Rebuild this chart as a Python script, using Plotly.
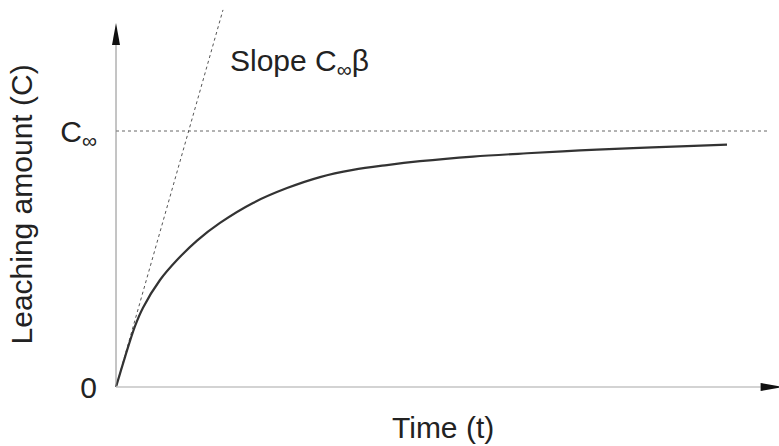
import plotly.graph_objects as go

# ---- data (t in arbitrary time units, C as fraction of C_inf) ----
t_curve = [0.0, 0.147, 0.311, 0.442, 0.720, 0.998, 1.326, 1.702, 2.242, 2.799, 3.339,
           3.879, 4.435, 4.975, 5.843, 6.727, 7.594, 8.462, 9.345, 10.0]
c_curve = [0.0, 0.117, 0.238, 0.310, 0.418, 0.496, 0.572, 0.641, 0.719, 0.777, 0.820,
           0.848, 0.867, 0.882, 0.900, 0.913, 0.924, 0.933, 0.941, 0.947]

t_tangent = [0.0, 1.751]
c_tangent = [0.0, 1.473]

t_asym = [0.0, 10.67]
c_asym = [1.0, 1.0]

y_tick_vals = [0, 1]
y_tick_text = ["0", "C<sub>∞</sub>"]

x_title = "Time (t)"
y_title = "Leaching amount (C)"
slope_label = "Slope C<sub>∞</sub>β"
slope_pos = (1.833, 1.266)

y_axis_top = 1.336
x_axis_end = 10.55

FONT = "Liberation Sans, Arial, Helvetica, sans-serif"
TXT = "#222222"

fig = go.Figure()

fig.add_trace(go.Scatter(x=t_asym, y=c_asym, mode="lines",
                         line=dict(color="#666666", width=1, dash="dot"),
                         hoverinfo="skip", showlegend=False))
fig.add_trace(go.Scatter(x=t_tangent, y=c_tangent, mode="lines",
                         line=dict(color="#555555", width=1, dash="dot"),
                         hoverinfo="skip", showlegend=False))
fig.add_trace(go.Scatter(x=t_curve, y=c_curve, mode="lines",
                         line=dict(color="#333333", width=2.2, shape="spline", smoothing=1.0),
                         hoverinfo="skip", showlegend=False))

# axis lines
fig.add_shape(type="line", xref="x", yref="y", x0=0, y0=0, x1=0, y1=y_axis_top,
              line=dict(color="#8a8a8a", width=1))
fig.add_shape(type="line", xref="x", yref="y", x0=0, y0=0, x1=x_axis_end, y1=0,
              line=dict(color="#c4c4c4", width=1.5))
# arrowheads (pixel-sized, anchored at axis ends)
fig.add_shape(type="path", xref="x", yref="y", xsizemode="pixel", ysizemode="pixel",
              xanchor=0, yanchor=y_axis_top,
              path="M -4,0 L 0,22 L 4,0 Z", fillcolor="#111111", line=dict(width=0))
fig.add_shape(type="path", xref="x", yref="y", xsizemode="pixel", ysizemode="pixel",
              xanchor=x_axis_end, yanchor=0,
              path="M 0,-4 L 22,0 L 0,4 Z", fillcolor="#111111", line=dict(width=0))

fig.add_annotation(x=slope_pos[0], y=slope_pos[1], xref="x", yref="y",
                   text=slope_label, showarrow=False, xanchor="left", yanchor="middle",
                   font=dict(family=FONT, size=30, color=TXT))

fig.add_annotation(x=0.5052, y=-0.054, xref="paper", yref="paper", text=x_title,
                   showarrow=False, xanchor="center", yanchor="middle",
                   font=dict(family=FONT, size=30, color=TXT))
fig.add_annotation(x=-0.1149, y=0.4963, xref="paper", yref="paper", text=y_title,
                   textangle=-90, showarrow=False, xanchor="center", yanchor="middle",
                   font=dict(family=FONT, size=30, color=TXT))

fig.update_xaxes(range=[-0.262, 10.851], showgrid=False, zeroline=False,
                 showline=False, showticklabels=False, ticks="")
fig.update_yaxes(range=[-0.0742, 1.5117], showgrid=False, zeroline=False,
                 showline=False, tickvals=y_tick_vals, ticktext=y_tick_text, ticks="",
                 ticklabelstandoff=2,
                 tickfont=dict(family=FONT, size=30, color=TXT))

fig.update_layout(width=779, height=446, margin=dict(l=100, r=0, t=0, b=40),
                  plot_bgcolor="white", paper_bgcolor="white")

fig.write_html("out.html", config={"displayModeBar": False},
               post_script="document.body.style.margin='0';document.body.style.overflow='hidden';")
